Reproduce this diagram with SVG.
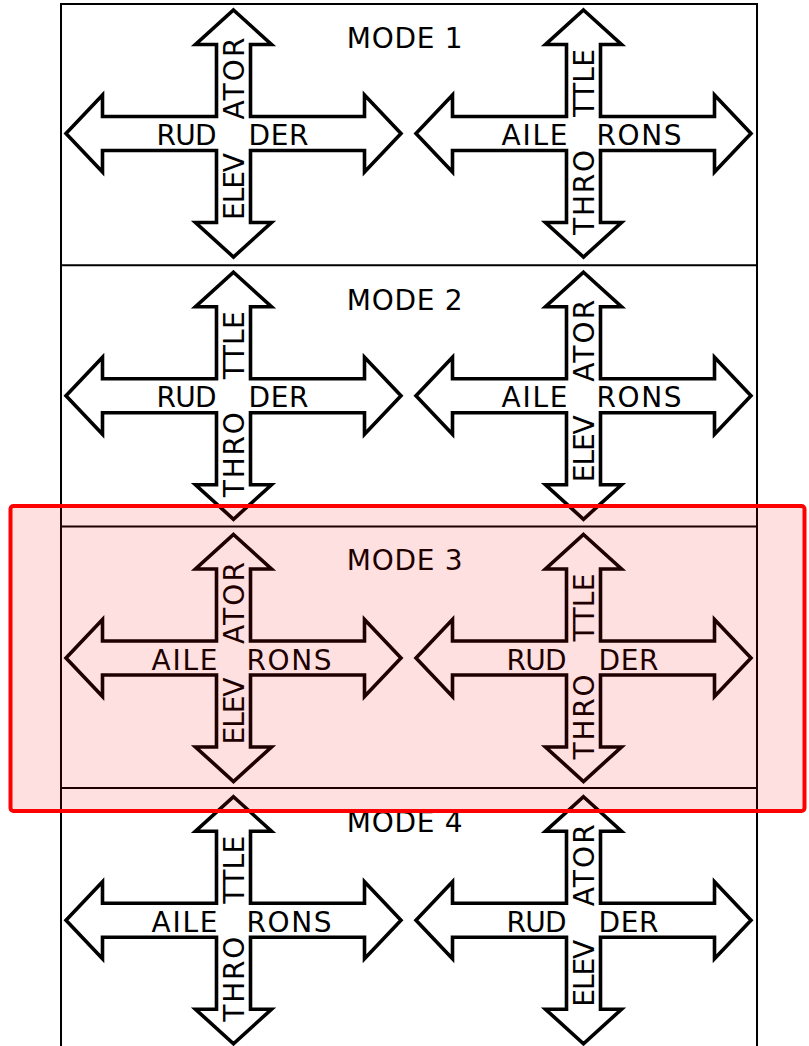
<svg xmlns="http://www.w3.org/2000/svg" xmlns:xlink="http://www.w3.org/1999/xlink" width="809" height="1046" viewBox="0 0 809 1046">
<style>
.frame{fill:none;stroke:#000;stroke-width:2}
.arrow{fill:#fff;stroke:#000;stroke-width:3.6;stroke-linejoin:miter;stroke-miterlimit:10}
text{font-family:"DejaVu Sans","Verdana",sans-serif;font-size:28px;fill:#000}
.hl{fill:#ff0000;fill-opacity:0.12;stroke:#ff0000;stroke-width:4}
</style>
<defs>
<path id="cross" d="M0,-123.5 L38,-89 L17,-89 L17,-17 L131,-17 L131,-38.5 L167.5,0 L131,38.5 L131,17 L17,17 L17,89 L38,89 L0,123.5 L-38,89 L-17,89 L-17,17 L-131,17 L-131,38.5 L-167.5,0 L-131,-38.5 L-131,-17 L-17,-17 L-17,-89 L-38,-89 Z"/>
</defs>
<rect width="809" height="1046" fill="#fff"/>
<g id="panels">
<line class="frame" x1="61" y1="4" x2="757" y2="4"/>
<line class="frame" x1="61" y1="3" x2="61" y2="1046"/>
<line class="frame" x1="757" y1="3" x2="757" y2="1046"/>
<line class="frame" x1="61" y1="265.3" x2="757" y2="265.3"/>
<line class="frame" x1="61" y1="526.5" x2="757" y2="526.5"/>
<line class="frame" x1="61" y1="788" x2="757" y2="788"/>
</g>
<g id="labels">
<text x="346.7" y="47.5" textLength="116" lengthAdjust="spacing">MODE 1</text>
<text x="346.7" y="309.5" textLength="116" lengthAdjust="spacing">MODE 2</text>
<text x="346.7" y="570" textLength="116" lengthAdjust="spacing">MODE 3</text>
<text x="346.7" y="831.5" textLength="116" lengthAdjust="spacing">MODE 4</text>
</g>
<!-- Mode 1 -->
<g id="m1-left" transform="translate(233.5,133.5)">
<use xlink:href="#cross" href="#cross" class="arrow"/>
<text x="-77" y="11.5" textLength="60" lengthAdjust="spacing">RUD</text>
<text x="15" y="11.5" textLength="60" lengthAdjust="spacing">DER</text>
<g transform="translate(10,0) rotate(-90)">
<text x="-86.5" y="0" textLength="67" lengthAdjust="spacing">ELEV</text>
<text x="14" y="0" textLength="82" lengthAdjust="spacing">ATOR</text>
</g>
</g>
<g id="m1-right" transform="translate(583.5,133.5)">
<use xlink:href="#cross" href="#cross" class="arrow"/>
<text x="-82" y="11.5" textLength="66" lengthAdjust="spacing">AILE</text>
<text x="13" y="11.5" textLength="85" lengthAdjust="spacing">RONS</text>
<g transform="translate(10,0) rotate(-90)">
<text x="-101.5" y="0" textLength="85" lengthAdjust="spacing">THRO</text>
<text x="16.5" y="0" textLength="68" lengthAdjust="spacing">TTLE</text>
</g>
</g>
<!-- Mode 2 -->
<g id="m2-left" transform="translate(233.5,395.75)">
<use xlink:href="#cross" href="#cross" class="arrow"/>
<text x="-77" y="11.5" textLength="60" lengthAdjust="spacing">RUD</text>
<text x="15" y="11.5" textLength="60" lengthAdjust="spacing">DER</text>
<g transform="translate(10,0) rotate(-90)">
<text x="-101.5" y="0" textLength="85" lengthAdjust="spacing">THRO</text>
<text x="16.5" y="0" textLength="68" lengthAdjust="spacing">TTLE</text>
</g>
</g>
<g id="m2-right" transform="translate(583.5,395.75)">
<use xlink:href="#cross" href="#cross" class="arrow"/>
<text x="-82" y="11.5" textLength="66" lengthAdjust="spacing">AILE</text>
<text x="13" y="11.5" textLength="85" lengthAdjust="spacing">RONS</text>
<g transform="translate(10,0) rotate(-90)">
<text x="-86.5" y="0" textLength="67" lengthAdjust="spacing">ELEV</text>
<text x="14" y="0" textLength="82" lengthAdjust="spacing">ATOR</text>
</g>
</g>
<!-- Mode 3 -->
<g id="m3-left" transform="translate(233.5,658)">
<use xlink:href="#cross" href="#cross" class="arrow"/>
<text x="-82" y="11.5" textLength="66" lengthAdjust="spacing">AILE</text>
<text x="13" y="11.5" textLength="85" lengthAdjust="spacing">RONS</text>
<g transform="translate(10,0) rotate(-90)">
<text x="-86.5" y="0" textLength="67" lengthAdjust="spacing">ELEV</text>
<text x="14" y="0" textLength="82" lengthAdjust="spacing">ATOR</text>
</g>
</g>
<g id="m3-right" transform="translate(583.5,658)">
<use xlink:href="#cross" href="#cross" class="arrow"/>
<text x="-77" y="11.5" textLength="60" lengthAdjust="spacing">RUD</text>
<text x="15" y="11.5" textLength="60" lengthAdjust="spacing">DER</text>
<g transform="translate(10,0) rotate(-90)">
<text x="-101.5" y="0" textLength="85" lengthAdjust="spacing">THRO</text>
<text x="16.5" y="0" textLength="68" lengthAdjust="spacing">TTLE</text>
</g>
</g>
<!-- Mode 4 -->
<g id="m4-left" transform="translate(233.5,920.25)">
<use xlink:href="#cross" href="#cross" class="arrow"/>
<text x="-82" y="11.5" textLength="66" lengthAdjust="spacing">AILE</text>
<text x="13" y="11.5" textLength="85" lengthAdjust="spacing">RONS</text>
<g transform="translate(10,0) rotate(-90)">
<text x="-101.5" y="0" textLength="85" lengthAdjust="spacing">THRO</text>
<text x="16.5" y="0" textLength="68" lengthAdjust="spacing">TTLE</text>
</g>
</g>
<g id="m4-right" transform="translate(583.5,920.25)">
<use xlink:href="#cross" href="#cross" class="arrow"/>
<text x="-77" y="11.5" textLength="60" lengthAdjust="spacing">RUD</text>
<text x="15" y="11.5" textLength="60" lengthAdjust="spacing">DER</text>
<g transform="translate(10,0) rotate(-90)">
<text x="-86.5" y="0" textLength="67" lengthAdjust="spacing">ELEV</text>
<text x="14" y="0" textLength="82" lengthAdjust="spacing">ATOR</text>
</g>
</g>
<g id="highlight">
<rect class="hl" x="10.5" y="506" width="794" height="305" rx="3"/>
</g>
</svg>
